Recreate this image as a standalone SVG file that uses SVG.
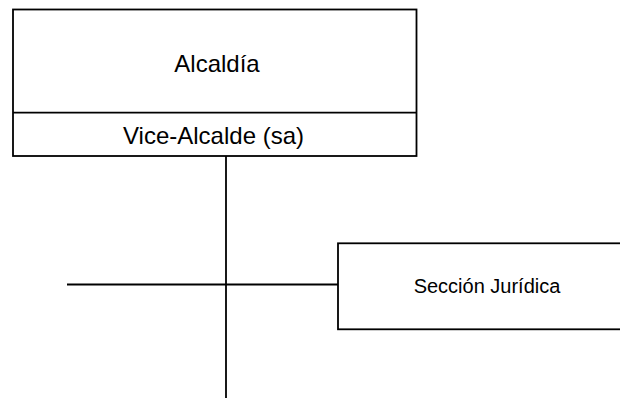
<svg xmlns="http://www.w3.org/2000/svg" width="620" height="398" viewBox="0 0 620 398">
<style>
.box{fill:#fff;stroke:#000;stroke-width:1.8}
.ln{stroke:#000;stroke-width:1.8;fill:none}
text{font-family:"Liberation Sans",Arial,sans-serif;fill:#000;text-anchor:middle}
.big{font-size:24px}
.small{font-size:20px}
</style>
<rect width="620" height="398" fill="#fff"/>
<g id="connectors">
<line class="ln" x1="226" y1="156" x2="226" y2="398"/>
<line class="ln" x1="67" y1="284.5" x2="338" y2="284.5"/>
</g>
<g id="alcaldia">
<rect class="box" x="13" y="9.5" width="403.5" height="146.5"/>
<line class="ln" x1="13" y1="112.7" x2="416.5" y2="112.7"/>
<text class="big" x="217" y="72">Alcaldía</text>
<text class="big" x="213.5" y="144">Vice-Alcalde (sa)</text>
</g>
<g id="seccion-juridica">
<rect class="box" x="338" y="243.3" width="297" height="86"/>
<text class="small" x="487" y="293.3">Sección Jurídica</text>
</g>
</svg>
